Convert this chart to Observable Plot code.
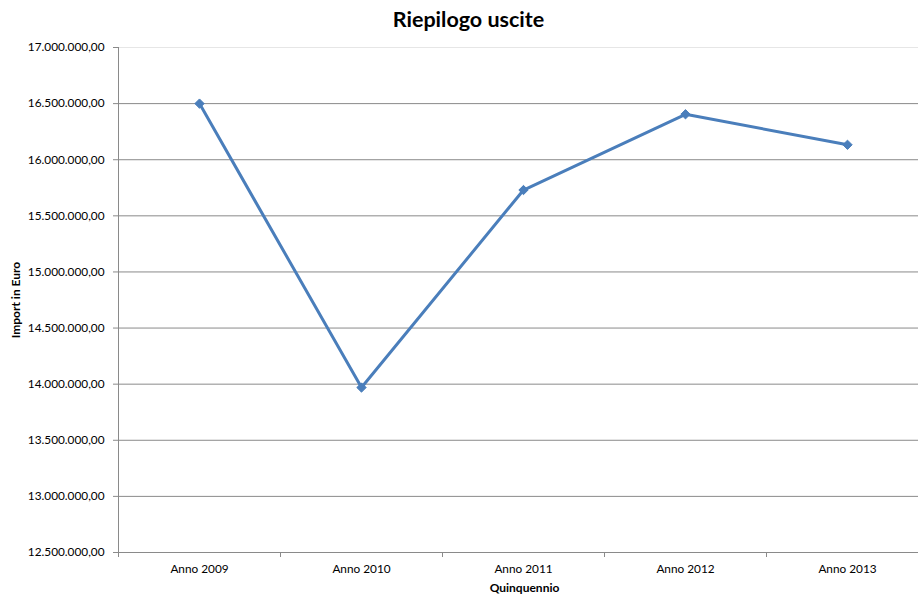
<!DOCTYPE html>
<html>
<head>
<meta charset="utf-8">
<script src="https://cdn.jsdelivr.net/npm/d3@7"></script>
<script src="https://cdn.jsdelivr.net/npm/@observablehq/plot@0.6"></script>
<style>
  html, body { margin: 0; padding: 0; background: #fff; overflow: hidden; }
  #chart svg { display: block; }
</style>
</head>
<body>
<div id="chart"></div>
<script>
// Yearly expenditure summary (euro)
const years = ["Anno 2009", "Anno 2010", "Anno 2011", "Anno 2012", "Anno 2013"];
const values = [16500000, 13970000, 15730000, 16405000, 16133000];
const yTicks = [12500000, 13000000, 13500000, 14000000, 14500000, 15000000, 15500000, 16000000, 16500000, 17000000];

const data = years.map((year, i) => ({i, year, value: values[i]}));

const it = d3.formatLocale({decimal: ",", thousands: ".", grouping: [3], currency: ["€", ""]});
const fmt = it.format(",.2f");

const grey = "#8a8a8a";
const font = "Lato, 'Open Sans', sans-serif";

const chart = Plot.plot({
  width: 918,
  height: 598,
  marginTop: 47,
  marginBottom: 46,
  marginLeft: 118,
  marginRight: 0,
  style: {fontFamily: font, fontSize: "11.8px", color: "#000", background: "#fff"},
  x: {domain: [-0.5, years.length - 0.5], range: [118, 928]},
  y: {domain: [12500000, 17000000]},
  marks: [
    // horizontal grid
    Plot.ruleY(yTicks.slice(0, -1), {stroke: grey, strokeWidth: 1}),
    Plot.ruleY(yTicks.slice(-1), {stroke: "#e6e6e6", strokeWidth: 1}),
    // left axis line
    Plot.ruleX([-0.5], {stroke: grey, strokeWidth: 1}),
    Plot.axisY({
      ticks: yTicks, tickFormat: fmt, tickSize: 5, tickPadding: 9,
      stroke: grey, label: null, fontSize: 11.8
    }),
    // category separators on the x axis
    Plot.axisX({
      ticks: d3.range(years.length + 1).map(k => k - 0.5),
      tickFormat: () => "", tickSize: 5, stroke: grey, label: null
    }),
    // category labels
    Plot.axisX({
      ticks: d3.range(years.length), tickFormat: k => years[k],
      tickSize: 0, tickPadding: 12, label: null, fontSize: 11.8
    }),
    Plot.line(data, {x: "i", y: "value", stroke: "#4a7ebb", strokeWidth: 3}),
    Plot.dot(data, {x: "i", y: "value", symbol: "diamond2", r: 4.2, fill: "#4a7ebb", stroke: "#4a7ebb", strokeWidth: 1}),
    // title and axis titles
    Plot.text(["Riepilogo uscite"], {
      frameAnchor: "top-left", dx: 350, dy: -36, textAnchor: "middle",
      fontSize: 21.5, fontWeight: "bold", fill: "#000"
    }),
    Plot.text(["Import in Euro"], {
      frameAnchor: "left", dx: -102, rotate: -90, textAnchor: "middle",
      fontSize: 12, fontWeight: "bold", fill: "#000"
    }),
    Plot.text(["Quinquennio"], {
      frameAnchor: "bottom-left", dx: 406, dy: 39, textAnchor: "middle",
      fontSize: 12, fontWeight: "bold", fill: "#000"
    })
  ]
});

document.getElementById("chart").append(chart);
</script>
</body>
</html>
